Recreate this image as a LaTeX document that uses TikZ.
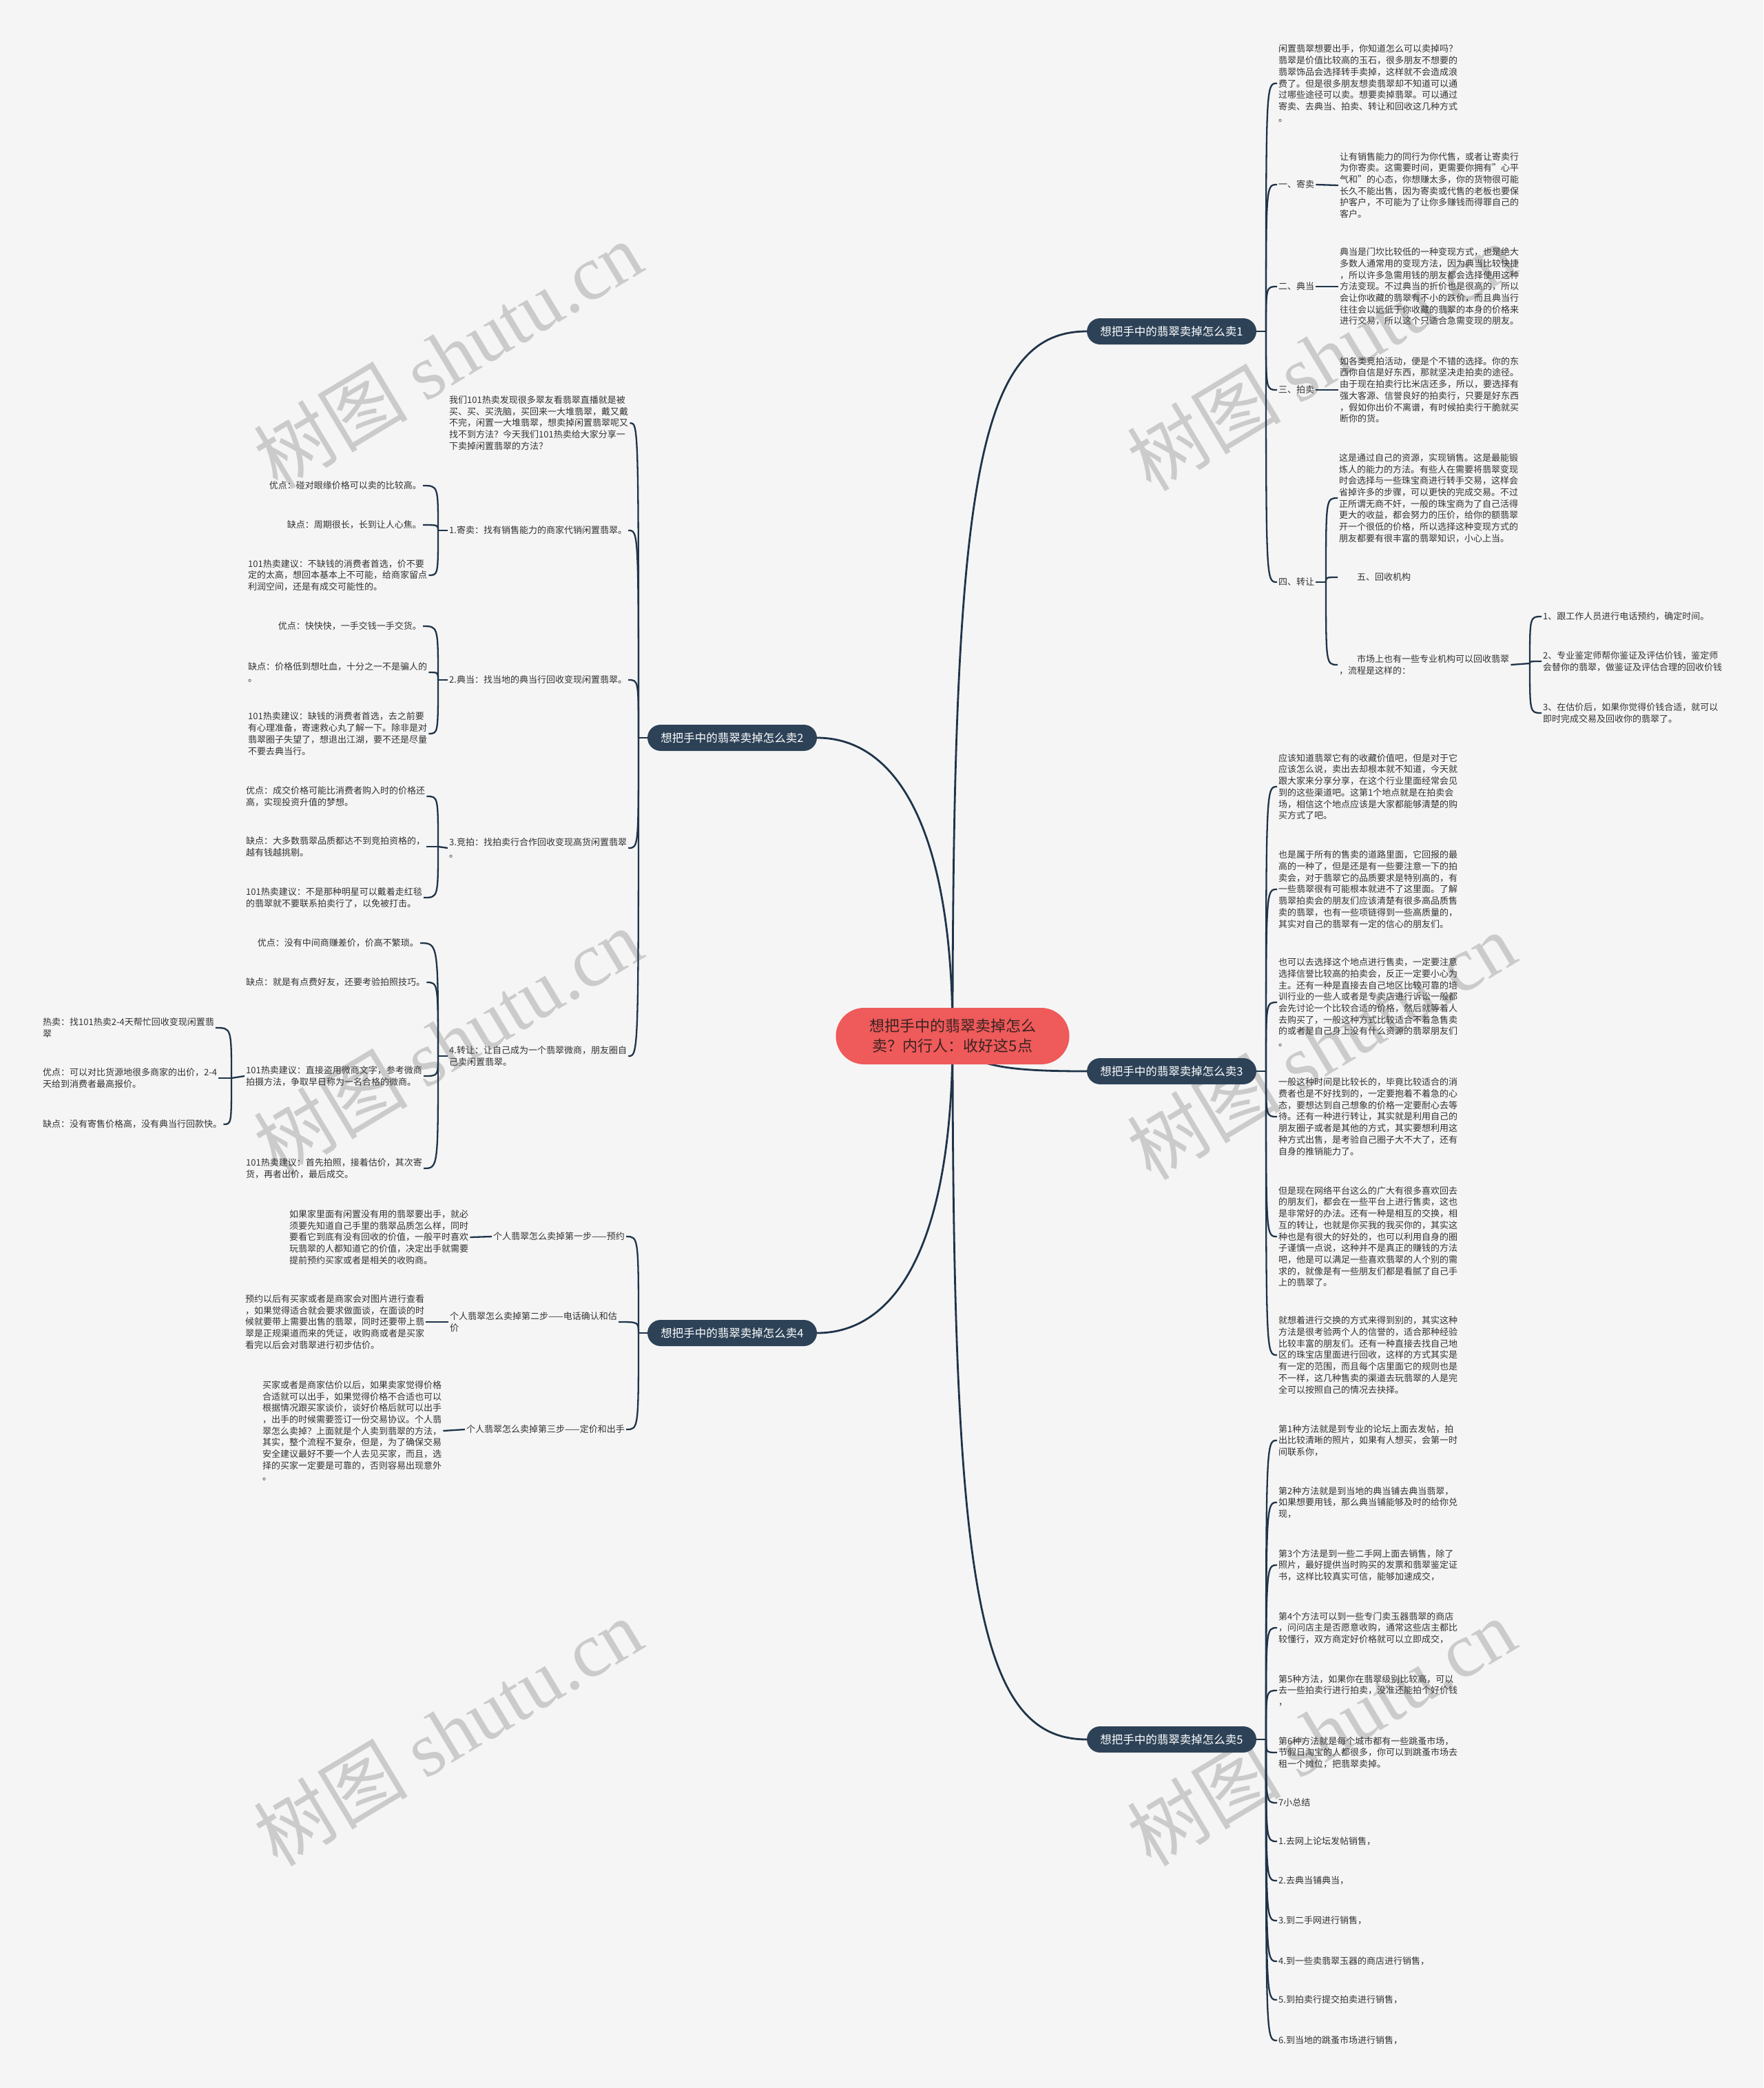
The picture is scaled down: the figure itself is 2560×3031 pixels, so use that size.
\documentclass[tikz,border=0pt]{standalone}
\usepackage{fontspec}
\setmainfont{Noto Sans CJK SC}
\newfontfamily\wmlatin{Liberation Serif}
\usetikzlibrary{calc}
\definecolor{bgc}{HTML}{F5F5F5}
\definecolor{linec}{HTML}{1F3449}
\definecolor{branchc}{HTML}{2D4257}
\definecolor{rootc}{HTML}{EF5A5A}
\definecolor{roottxt}{HTML}{3A2222}
\definecolor{txtc}{HTML}{333333}
\definecolor{wmc}{HTML}{CBCBCB}
\pgfdeclarelayer{bg}
\pgfsetlayers{bg,main}
\newcommand\rc[2]{\draw[conn] (#1) .. controls (#1 |- #2.west) .. (#2.west);}
\newcommand\lc[2]{\draw[conn] (#1) .. controls (#1 |- #2.east) .. (#2.east);}
\tikzset{
  conn/.style={draw=linec, line width=2.3pt},
  rootconn/.style={draw=linec, line width=2.8pt},
  txt/.style={inner sep=2pt, align=left, text=txtc, font=\fontsize{13}{16.7}\selectfont},
  branch/.style={fill=branchc, text=white, rounded corners=19pt, minimum width=246pt, minimum height=38pt, inner sep=0pt, font=\fontsize{16.5}{20}\selectfont},
  root/.style={fill=rootc, text=roottxt, rounded corners=41pt, minimum width=339pt, minimum height=82pt, align=center, inner sep=0pt, font=\fontsize{22}{29}\selectfont},
  wm/.style={rotate=31, text=wmc, font=\fontsize{112}{112}\selectfont}
}
\begin{document}
\begin{tikzpicture}[x=1pt,y=-1pt]
\useasboundingbox (0,0) rectangle (2560,3031);

% ---------- root and branches ----------
\node[root] (root) at (1383,1504) {想把手中的翡翠卖掉怎么\\卖？内行人：收好这5点};
\node[branch] (b1) at (1701,481) {想把手中的翡翠卖掉怎么卖1};
\node[branch] (b2) at (1063,1071) {想把手中的翡翠卖掉怎么卖2};
\node[branch] (b3) at (1701,1555) {想把手中的翡翠卖掉怎么卖3};
\node[branch] (b4) at (1063,1935) {想把手中的翡翠卖掉怎么卖4};
\node[branch] (b5) at (1701,2525) {想把手中的翡翠卖掉怎么卖5};

% ---------- branch 1 ----------
\node[txt, anchor=west] (r1a) at (1854,121) {闲置翡翠想要出手，你知道怎么可以卖掉吗？\\翡翠是价值比较高的玉石，很多朋友不想要的\\翡翠饰品会选择转手卖掉，这样就不会造成浪\\费了。但是很多朋友想卖翡翠却不知道可以通\\过哪些途径可以卖。想要卖掉翡翠。可以通过\\寄卖、去典当、拍卖、转让和回收这几种方式\\。};
\node[txt, anchor=west] (r1b) at (1854,268) {一、寄卖};
\node[txt, anchor=west] (r1bt) at (1943,269) {让有销售能力的同行为你代售，或者让寄卖行\\为你寄卖。这需要时间，更需要你拥有"心平\\气和"的心态，你想赚太多，你的货物很可能\\长久不能出售，因为寄卖或代售的老板也要保\\护客户，不可能为了让你多赚钱而得罪自己的\\客户。};
\node[txt, anchor=west] (r1c) at (1854,416) {二、典当};
\node[txt, anchor=west] (r1ct) at (1943,416) {典当是门坎比较低的一种变现方式，也是绝大\\多数人通常用的变现方法，因为典当比较快捷\\，所以许多急需用钱的朋友都会选择使用这种\\方法变现。不过典当的折价也是很高的，所以\\会让你收藏的翡翠有不小的跌价，而且典当行\\往往会以远低于你收藏的翡翠的本身的价格来\\进行交易，所以这个只适合急需变现的朋友。};
\node[txt, anchor=west] (r1d) at (1854,566) {三、拍卖};
\node[txt, anchor=west] (r1dt) at (1943,566) {如各类竞拍活动，便是个不错的选择。你的东\\西你自信是好东西，那就坚决走拍卖的途径。\\由于现在拍卖行比米店还多，所以，要选择有\\强大客源、信誉良好的拍卖行，只要是好东西\\，假如你出价不离谱，有时候拍卖行干脆就买\\断你的货。};
\node[txt, anchor=west] (r1e) at (1854,845) {四、转让};
\node[txt, anchor=west] (r1e1) at (1942,723) {这是通过自己的资源，实现销售。这是最能锻\\炼人的能力的方法。有些人在需要将翡翠变现\\时会选择与一些珠宝商进行转手交易，这样会\\省掉许多的步骤，可以更快的完成交易。不过\\正所谓无商不奸，一般的珠宝商为了自己活得\\更大的收益，都会努力的压价，给你的额翡翠\\开一个很低的价格，所以选择这种变现方式的\\朋友都要有很丰富的翡翠知识，小心上当。};
\node[txt, anchor=west] (r1e2) at (1942,838) {　　五、回收机构};
\node[txt, anchor=west] (r1e3) at (1942,965) {　　市场上也有一些专业机构可以回收翡翠\\，流程是这样的：};
\node[txt, anchor=west] (r1f1) at (2238,895) {1、跟工作人员进行电话预约，确定时间。};
\node[txt, anchor=west] (r1f2) at (2238,960) {2、专业鉴定师帮你鉴证及评估价钱，鉴定师\\会替你的翡翠，做鉴证及评估合理的回收价钱};
\node[txt, anchor=west] (r1f3) at (2238,1035) {3、在估价后，如果你觉得价钱合适，就可以\\即时完成交易及回收你的翡翠了。};

% ---------- branch 3 ----------
\node[txt, anchor=west] (r3a) at (1854,1142) {应该知道翡翠它有的收藏价值吧，但是对于它\\应该怎么说，卖出去却根本就不知道，今天就\\跟大家来分享分享，在这个行业里面经常会见\\到的这些渠道吧。这第1个地点就是在拍卖会\\场，相信这个地点应该是大家都能够清楚的购\\买方式了吧。};
\node[txt, anchor=west] (r3b) at (1854,1291) {也是属于所有的售卖的道路里面，它回报的最\\高的一种了，但是还是有一些要注意一下的拍\\卖会，对于翡翠它的品质要求是特别高的，有\\一些翡翠很有可能根本就进不了这里面。了解\\翡翠拍卖会的朋友们应该清楚有很多高品质售\\卖的翡翠，也有一些项链得到一些高质量的，\\其实对自己的翡翠有一定的信心的朋友们。};
\node[txt, anchor=west] (r3c) at (1854,1455) {也可以去选择这个地点进行售卖，一定要注意\\选择信誉比较高的拍卖会，反正一定要小心为\\主。还有一种是直接去自己地区比较可靠的培\\训行业的一些人或者是专卖店进行诉讼一般都\\会先讨论一个比较合适的价格，然后就等着人\\去购买了，一般这种方式比较适合不着急售卖\\的或者是自己身上没有什么资源的翡翠朋友们\\。};
\node[txt, anchor=west] (r3d) at (1854,1621) {一般这种时间是比较长的，毕竟比较适合的消\\费者也是不好找到的，一定要抱着不着急的心\\态，要想达到自己想象的价格一定要耐心去等\\待。还有一种进行转让，其实就是利用自己的\\朋友圈子或者是其他的方式，其实要想利用这\\种方式出售，是考验自己圈子大不大了，还有\\自身的推销能力了。};
\node[txt, anchor=west] (r3e) at (1854,1795) {但是现在网络平台这么的广大有很多喜欢回去\\的朋友们，都会在一些平台上进行售卖，这也\\是非常好的办法。还有一种是相互的交换，相\\互的转让，也就是你买我的我买你的，其实这\\种也是有很大的好处的，也可以利用自身的圈\\子谨慎一点说，这种并不是真正的赚钱的方法\\吧，他是可以满足一些喜欢翡翠的人个别的需\\求的，就像是有一些朋友们都是看腻了自己手\\上的翡翠了。};
\node[txt, anchor=west] (r3f) at (1854,1967) {就想着进行交换的方式来得到别的，其实这种\\方法是很考验两个人的信誉的，适合那种经验\\比较丰富的朋友们。还有一种直接去找自己地\\区的珠宝店里面进行回收，这样的方式其实是\\有一定的范围，而且每个店里面它的规则也是\\不一样，这几种售卖的渠道去玩翡翠的人是完\\全可以按照自己的情况去抉择。};

% ---------- branch 5 ----------
\node[txt, anchor=west] (r5a) at (1854,2091) {第1种方法就是到专业的论坛上面去发帖，拍\\出比较清晰的照片，如果有人想买，会第一时\\间联系你，};
\node[txt, anchor=west] (r5b) at (1854,2181) {第2种方法就是到当地的典当铺去典当翡翠，\\如果想要用钱，那么典当铺能够及时的给你兑\\现，};
\node[txt, anchor=west] (r5c) at (1854,2272) {第3个方法是到一些二手网上面去销售，除了\\照片，最好提供当时购买的发票和翡翠鉴定证\\书，这样比较真实可信，能够加速成交，};
\node[txt, anchor=west] (r5d) at (1854,2363) {第4个方法可以到一些专门卖玉器翡翠的商店\\，问问店主是否愿意收购，通常这些店主都比\\较懂行，双方商定好价格就可以立即成交，};
\node[txt, anchor=west] (r5e) at (1854,2454) {第5种方法，如果你在翡翠级别比较高，可以\\去一些拍卖行进行拍卖，没准还能拍个好价钱\\，};
\node[txt, anchor=west] (r5f) at (1854,2544) {第6种方法就是每个城市都有一些跳蚤市场，\\节假日淘宝的人都很多，你可以到跳蚤市场去\\租一个摊位，把翡翠卖掉。};
\node[txt, anchor=west] (r5g) at (1854,2617) {7小总结};
\node[txt, anchor=west] (r5h) at (1854,2673) {1.去网上论坛发帖销售，};
\node[txt, anchor=west] (r5i) at (1854,2730) {2.去典当铺典当，};
\node[txt, anchor=west] (r5j) at (1854,2788) {3.到二手网进行销售，};
\node[txt, anchor=west] (r5k) at (1854,2847) {4.到一些卖翡翠玉器的商店进行销售，};
\node[txt, anchor=west] (r5l) at (1854,2903) {5.到拍卖行提交拍卖进行销售，};
\node[txt, anchor=west] (r5m) at (1854,2962) {6.到当地的跳蚤市场进行销售，};

% ---------- branch 2 ----------
\node[txt, anchor=west] (l2a) at (650,614) {我们101热卖发现很多翠友看翡翠直播就是被\\买、买、买洗脑，买回来一大堆翡翠，戴又戴\\不完，闲置一大堆翡翠，想卖掉闲置翡翠呢又\\找不到方法？今天我们101热卖给大家分享一\\下卖掉闲置翡翠的方法？};
\node[txt, anchor=west] (l2b) at (650,770) {1.寄卖：找有销售能力的商家代销闲置翡翠。};
\node[txt, anchor=east] (l2b1) at (614,705) {优点：碰对眼缘价格可以卖的比较高。};
\node[txt, anchor=east] (l2b2) at (614,762) {缺点：周期很长，长到让人心焦。};
\node[txt, anchor=west] (l2b3) at (358,835) {101热卖建议：不缺钱的消费者首选，价不要\\定的太高，想回本基本上不可能，给商家留点\\利润空间，还是有成交可能性的。};
\node[txt, anchor=west] (l2c) at (650,987) {2.典当：找当地的典当行回收变现闲置翡翠。};
\node[txt, anchor=east] (l2c1) at (614,909) {优点：快快快，一手交钱一手交货。};
\node[txt, anchor=west] (l2c2) at (358,976) {缺点：价格低到想吐血，十分之一不是骗人的\\。};
\node[txt, anchor=west] (l2c3) at (358,1065) {101热卖建议：缺钱的消费者首选，去之前要\\有心理准备，寄速救心丸了解一下。除非是对\\翡翠圈子失望了，想退出江湖，要不还是尽量\\不要去典当行。};
\node[txt, anchor=west] (l2d) at (650,1231) {3.竞拍：找拍卖行合作回收变现高货闲置翡翠\\。};
\node[txt, anchor=west] (l2d1) at (355,1156) {优点：成交价格可能比消费者购入时的价格还\\高，实现投资升值的梦想。};
\node[txt, anchor=west] (l2d2) at (355,1229) {缺点：大多数翡翠品质都达不到竞拍资格的，\\越有钱越挑剔。};
\node[txt, anchor=west] (l2d3) at (355,1303) {101热卖建议：不是那种明星可以戴着走红毯\\的翡翠就不要联系拍卖行了，以免被打击。};
\node[txt, anchor=west] (l2e) at (650,1533) {4.转让：让自己成为一个翡翠微商，朋友圈自\\己卖闲置翡翠。};
\node[txt, anchor=east] (l2e1) at (610,1369) {优点：没有中间商赚差价，价高不繁琐。};
\node[txt, anchor=west] (l2e2) at (355,1426) {缺点：就是有点费好友，还要考验拍照技巧。};
\node[txt, anchor=west] (l2e3) at (355,1562) {101热卖建议：直接盗用微商文字，参考微商\\拍摄方法，争取早日称为一名合格的微商。};
\node[txt, anchor=west] (l2e4) at (355,1696) {101热卖建议：首先拍照，接着估价，其次寄\\货，再者出价，最后成交。};
\node[txt, anchor=west] (l2f1) at (60,1492) {热卖：找101热卖2-4天帮忙回收变现闲置翡\\翠};
\node[txt, anchor=west] (l2f2) at (60,1565) {优点：可以对比货源地很多商家的出价，2-4\\天给到消费者最高报价。};
\node[txt, anchor=west] (l2f3) at (60,1632) {缺点：没有寄售价格高，没有典当行回款快。};

% ---------- branch 4 ----------
\node[txt, anchor=west] (l4a) at (714,1795) {个人翡翠怎么卖掉第一步——预约};
\node[txt, anchor=west] (l4at) at (418,1796) {如果家里面有闲置没有用的翡翠要出手，就必\\须要先知道自己手里的翡翠品质怎么样，同时\\要看它到底有没有回收的价值，一般平时喜欢\\玩翡翠的人都知道它的价值，决定出手就需要\\提前预约买家或者是相关的收购商。};
\node[txt, anchor=west] (l4b) at (651,1919) {个人翡翠怎么卖掉第二步——电话确认和估\\价};
\node[txt, anchor=west] (l4bt) at (354,1919) {预约以后有买家或者是商家会对图片进行查看\\，如果觉得适合就会要求做面谈，在面谈的时\\候就要带上需要出售的翡翠，同时还要带上翡\\翠是正规渠道而来的凭证，收购商或者是买家\\看完以后会对翡翠进行初步估价。};
\node[txt, anchor=west] (l4c) at (675,2075) {个人翡翠怎么卖掉第三步——定价和出手};
\node[txt, anchor=west] (l4ct) at (379,2077) {买家或者是商家估价以后，如果卖家觉得价格\\合适就可以出手，如果觉得价格不合适也可以\\根据情况跟买家谈价，谈好价格后就可以出手\\，出手的时候需要签订一份交易协议。个人翡\\翠怎么卖掉？上面就是个人卖到翡翠的方法，\\其实，整个流程不复杂，但是，为了确保交易\\安全建议最好不要一个人去见买家，而且，选\\择的买家一定要是可靠的，否则容易出现意外\\。};

% ---------- hubs ----------
\coordinate (h1) at (1838,481);
\coordinate (h1e) at (1925,845);
\coordinate (h1f) at (2221,963);
\coordinate (h3) at (1838,1555);
\coordinate (h5) at (1838,2525);
\coordinate (h2) at (927,1071);
\coordinate (h2b) at (636,770);
\coordinate (h2c) at (636,987);
\coordinate (h2d) at (636,1229);
\coordinate (h2e) at (636,1533);
\coordinate (h2f) at (336,1565);
\coordinate (h4) at (927,1935);

\begin{pgfonlayer}{bg}
\fill[bgc] (0,0) rectangle (2560,3031);
% watermarks
\node[wm] (w1) at (650,515) {树图 {\wmlatin shutu.cn}};
\node[wm] (w2) at (650,1512) {树图 {\wmlatin shutu.cn}};
\node[wm] (w3) at (650,2514) {树图 {\wmlatin shutu.cn}};
\node[wm] (w4) at (1918,518) {树图 {\wmlatin shutu.cn}};
\node[wm] (w5) at (1918,1518) {树图 {\wmlatin shutu.cn}};
\node[wm] (w6) at (1918,2514) {树图 {\wmlatin shutu.cn}};

% root connectors
\draw[rootconn] (root.center) .. controls (1383,700) and (1420,481) .. (b1.west);
\draw[rootconn] (root.center) .. controls (1383,1200) and (1300,1071) .. (b2.east);
\draw[rootconn] (root.center) .. controls (1400,1548) and (1460,1555) .. (b3.west);
\draw[rootconn] (root.center) .. controls (1383,1808) and (1300,1935) .. (b4.east);
\draw[rootconn] (root.center) .. controls (1383,2305) and (1420,2525) .. (b5.west);

% branch 1
\draw[conn] (b1.east) -- (h1);
\rc{h1}{r1a}\rc{h1}{r1b}\rc{h1}{r1c}\rc{h1}{r1d}\rc{h1}{r1e}
\draw[conn] (r1b.east) -- (r1bt.west);
\draw[conn] (r1c.east) -- (r1ct.west);
\draw[conn] (r1d.east) -- (r1dt.west);
\draw[conn] (r1e.east) -- (h1e);
\rc{h1e}{r1e1}\rc{h1e}{r1e2}\rc{h1e}{r1e3}
\draw[conn] (r1e3.east) -- (h1f);
\rc{h1f}{r1f1}\rc{h1f}{r1f2}\rc{h1f}{r1f3}

% branch 3
\draw[conn] (b3.east) -- (h3);
\rc{h3}{r3a}\rc{h3}{r3b}\rc{h3}{r3c}\rc{h3}{r3d}\rc{h3}{r3e}\rc{h3}{r3f}

% branch 5
\draw[conn] (b5.east) -- (h5);
\rc{h5}{r5a}\rc{h5}{r5b}\rc{h5}{r5c}\rc{h5}{r5d}\rc{h5}{r5e}\rc{h5}{r5f}\rc{h5}{r5g}
\rc{h5}{r5h}\rc{h5}{r5i}\rc{h5}{r5j}\rc{h5}{r5k}\rc{h5}{r5l}\rc{h5}{r5m}

% branch 2
\draw[conn] (b2.west) -- (h2);
\lc{h2}{l2a}\lc{h2}{l2b}\lc{h2}{l2c}\lc{h2}{l2d}\lc{h2}{l2e}
\draw[conn] (l2b.west) -- (h2b);
\lc{h2b}{l2b1}\lc{h2b}{l2b2}\lc{h2b}{l2b3}
\draw[conn] (l2c.west) -- (h2c);
\lc{h2c}{l2c1}\lc{h2c}{l2c2}\lc{h2c}{l2c3}
\draw[conn] (l2d.west) -- (h2d);
\lc{h2d}{l2d1}\lc{h2d}{l2d2}\lc{h2d}{l2d3}
\draw[conn] (l2e.west) -- (h2e);
\lc{h2e}{l2e1}\lc{h2e}{l2e2}\lc{h2e}{l2e3}\lc{h2e}{l2e4}
\draw[conn] (l2e3.west) -- (h2f);
\lc{h2f}{l2f1}\lc{h2f}{l2f2}\lc{h2f}{l2f3}

% branch 4
\draw[conn] (b4.west) -- (h4);
\lc{h4}{l4a}\lc{h4}{l4b}\lc{h4}{l4c}
\draw[conn] (l4a.west) -- (l4at.east);
\draw[conn] (l4b.west) -- (l4bt.east);
\draw[conn] (l4c.west) -- (l4ct.east);
\end{pgfonlayer}
\end{tikzpicture}
\end{document}
